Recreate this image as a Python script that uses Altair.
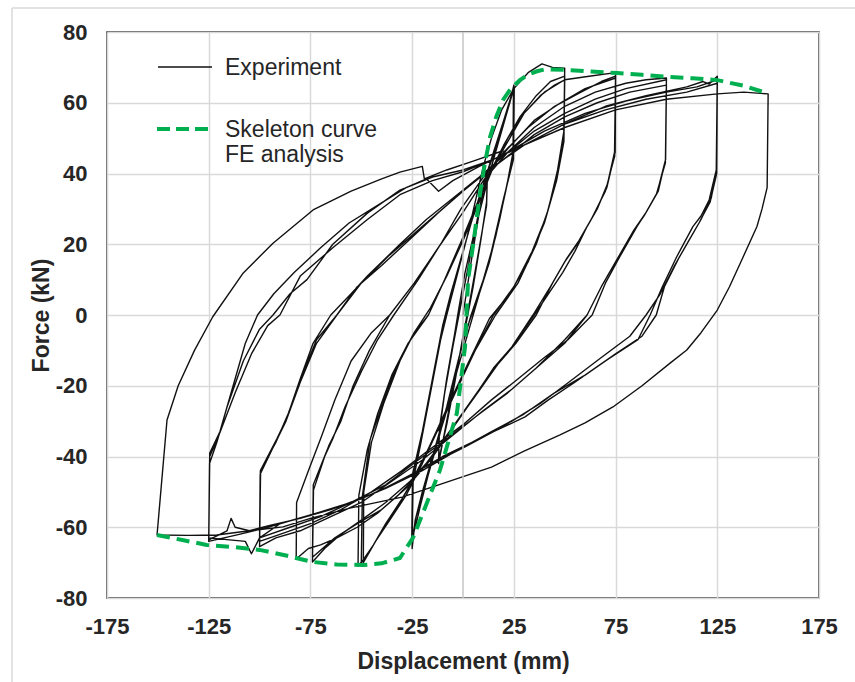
import altair as alt
import pandas as pd

# ---------------- data ----------------
x_ticks = [-175, -125, -75, -25, 25, 75, 125, 175]
y_ticks = [-80, -60, -40, -20, 0, 20, 40, 60, 80]
legend_labels = ["Experiment", "Skeleton curve", "FE analysis"]

# experiment path, (displacement mm, force kN), in loading order
cycles_12 = [(0, 0), (4, 15), (8, 29), (12, 41), (11.6, 32), (9, 22), (5, 8), (1, -4), (-4, -18), (-8, -30),
             (-12, -42), (-11.6, -33), (-9, -22), (-5, -9), (-1, 3), (4, 18), (8, 30), (12, 40), (11.6, 31),
             (8, 19), (4, 6), (0, -6), (-4, -19), (-8, -31), (-12, -41), (-11.6, -32), (-8, -18), (-4, -5)]

cycles_25 = [(-2, 2), (1, 12), (5, 22), (9, 31), (13, 40), (17, 48), (21, 56), (23, 60), (25, 65),
             (24.6, 46), (22, 38), (18, 27), (13, 15), (8, 6), (3, -2), (-2, -12), (-7, -24), (-12, -35),
             (-17, -45), (-21, -54), (-23, -59), (-25, -63),
             (-24.5, -46), (-21, -36), (-17, -24), (-13, -12), (-9, -1),
             (-5, 8), (0, 18), (5, 28), (10, 37), (15, 46), (20, 55), (24.8, 64),
             (24.6, 45), (21, 35), (16, 22), (10, 10), (4, 0), (-2, -12), (-8, -26), (-14, -38), (-19, -49),
             (-23, -57), (-25.2, -64),
             (-24.8, -45), (-20, -33), (-15, -18), (-10, -3),
             (-6, 6), (-1, 16), (4, 26), (10, 37), (16, 47), (21, 56), (25.2, 64.5),
             (24.8, 44), (20, 33), (14, 18), (8, 6), (3, -4), (-3, -16), (-9, -29), (-15, -40), (-20, -50),
             (-23.5, -58), (-25, -66),
             (-24.6, -47), (-21, -37), (-16, -22), (-11, -7), (-8, 0)]

cycles_50 = [(-3, 11), (2, 22), (6, 32), (10, 42), (14, 50), (19, 58), (25, 64), (32, 68.5), (38.8, 71),
             (44, 70), (50, 69.8),
             (49.6, 52), (46.5, 41), (42, 30), (36, 20), (27, 9), (16, 0), (6, -10), (-3, -21), (-11, -31),
             (-19, -40), (-27, -49), (-34, -56), (-41, -62), (-46, -67), (-51.6, -71),
             (-51.2, -51), (-47, -38), (-42, -28), (-35, -17), (-27, -8), (-17, 0),
             (-9, 10), (-1, 20), (6, 30), (13, 40), (20, 48), (28, 56), (36, 62), (43, 66), (50, 67.5),
             (49.5, 50), (46, 39), (41, 28), (34, 18), (25, 8), (15, 0), (5, -11), (-4, -22), (-12, -32),
             (-20, -42), (-28, -51), (-36, -58), (-43, -64), (-49, -70),
             (-48.8, -50), (-45, -36), (-39, -25), (-31, -13), (-24, -5), (-16, 2),
             (-8, 11), (0, 21), (8, 32), (15, 42), (22, 49), (30, 57), (38, 62), (45, 65), (50, 66.5),
             (49.6, 49), (46, 38), (40, 26), (32, 15), (23, 6), (13, -1), (3, -13), (-6, -24), (-14, -34),
             (-22, -44), (-30, -52), (-38, -59), (-44, -65), (-50, -70),
             (-49.5, -51.4), (-45.7, -35.3), (-40, -26), (-33, -15), (-25, -6), (-17, 0)]

cycles_75 = [(-9, 10), (0, 22), (8, 33), (15, 42), (22, 50), (30, 57), (40, 63), (50, 66.5), (62, 67.5),
             (75, 68.5),
             (74.5, 46), (71, 37), (66, 30), (61, 25), (55, 18), (49, 12), (42, 6), (35, 0), (24, -9),
             (15, -15), (8, -21), (-3, -30), (-13, -38), (-22, -45), (-32, -51), (-42, -56), (-52, -60),
             (-62, -63), (-70, -65), (-76, -66), (-82, -69),
             (-81.8, -53), (-76, -44), (-70, -35), (-63, -24), (-55, -13), (-45, -5), (-36, 0),
             (-24, 9), (-11, 20), (0, 29), (10, 38), (20, 46), (32, 53), (45, 59), (58, 63), (68, 66),
             (75, 67.5),
             (74.8, 46), (70.7, 36), (64, 28), (57, 21), (51, 16), (44, 9), (36, 0), (26, -8), (17, -14),
             (8.4, -21), (-4, -31), (-15, -40), (-26, -47), (-38, -53), (-50, -58), (-60, -62), (-68, -66),
             (-74, -69.8),
             (-73.5, -49.5), (-68, -40), (-64, -35), (-58, -26), (-50, -16), (-42, -7), (-34, 0),
             (-22, 10), (-11, 20), (-1, 30), (10, 39), (22, 47), (35, 55), (48, 60), (60, 64), (75, 67),
             (74.6, 45), (70, 35), (63, 27), (56, 20), (50, 15), (43, 8), (34.4, 0), (24, -9), (15, -15),
             (7, -22), (-5, -32), (-16, -41), (-28, -49), (-40, -55), (-52, -59), (-63, -63), (-74, -68.5),
             (-73.6, -48), (-66, -37), (-60, -30), (-54, -20), (-46, -10), (-36, 0)]

cycles_100 = [(-24, 9), (-11, 20), (0, 29), (10, 38), (22, 46), (35, 53), (50, 59), (65, 63), (80, 65.5),
              (90, 66.5), (100, 67),
              (99.6, 44), (95.4, 34.5), (90, 29), (85.5, 25), (77, 16.4), (70, 9), (63.5, 0), (51.6, -7),
              (40, -12), (25, -19), (14, -24), (0, -31), (-18.7, -39), (-30, -44), (-45, -50), (-60, -55),
              (-75, -59), (-90, -62), (-100, -64),
              (-99.6, -44), (-91.5, -35), (-86.5, -29), (-80, -18), (-73.7, -8), (-65, 0),
              (-55, 6), (-47, 11), (-31, 20), (-18, 27), (-5, 33), (8, 39), (20, 45), (35, 52), (50, 57),
              (65, 61), (80, 64), (100, 66.5),
              (99.5, 43), (95, 34), (89, 28), (83, 23), (76, 16), (68, 8), (61, 0), (50, -8), (38, -14),
              (24, -21), (10, -27), (-5, -34), (-20, -41), (-35, -47), (-50, -53), (-65, -57), (-80, -61),
              (-92, -63), (-100, -65.5),
              (-99.5, -44), (-92, -36), (-86, -28), (-79, -17), (-72, -7), (-62, 0),
              (-50, 9), (-36, 17), (-22, 24), (-8, 31), (6, 38), (20, 44), (35, 51), (50, 56), (66, 60),
              (82, 63), (100, 65),
              (99.6, 44), (96, 35), (90, 29), (84, 24), (77, 17), (68, 8), (61, 0), (50, -7), (36, -15),
              (22, -22), (8, -28), (-8, -35), (-22, -41), (-38, -48), (-55, -53), (-70, -57), (-85, -60),
              (-100, -63),
              (-99.7, -45), (-93, -37), (-87, -30), (-80, -19), (-72, -8), (-62, 0)]

cycles_125 = [(-52, 8), (-40, 14), (-25, 22), (-12, 29), (0, 35), (15, 42), (30, 48), (50, 54), (70, 59),
              (90, 62), (110, 64.5), (118, 66), (121, 65.3), (125, 67.5),
              (124.5, 41), (121, 32.5), (117, 28), (113, 25), (105, 16.4), (98, 8), (92, 0), (86, -7),
              (70, -13), (55, -19), (42, -24), (30.5, -28.8), (15, -33), (1, -37.3), (-18.7, -43),
              (-35, -48), (-50, -52), (-65, -55), (-80, -57.5), (-95, -59.5), (-105, -61), (-112, -60),
              (-114, -57.5), (-116, -61), (-125, -63.6),
              (-124.5, -39), (-119.5, -33), (-113, -20), (-107, -8), (-101, 0),
              (-93, 6), (-83, 12), (-70, 19), (-56, 26), (-42, 31), (-28, 36), (-18, 38.5), (-12, 35),
              (-5, 38), (8, 42), (22, 46), (40, 52), (60, 57), (80, 60.5), (100, 63), (115, 64.5),
              (125, 66.5),
              (124.7, 40), (121.5, 32), (116, 26), (111, 21), (104, 14), (97, 6), (90, 0), (82, -6),
              (68, -12), (52, -19), (38, -25), (24, -30), (8, -35), (-10, -40), (-25, -45), (-42, -50),
              (-60, -54), (-78, -57), (-96, -60), (-110, -62), (-125, -64),
              (-124.6, -42), (-121, -36), (-116, -26), (-108, -13), (-100, -4), (-93.4, 0),
              (-85, 6), (-76.7, 10), (-64, 20), (-47, 28.8), (-31, 35.3), (-15, 39), (0, 41), (15, 44),
              (30, 48), (50, 54), (70, 58), (90, 61), (110, 63), (125, 65.5),
              (124.6, 41), (122, 33), (117, 27), (112, 22), (106, 16), (99, 8), (95, 0), (88, -6),
              (75, -11), (60, -17), (45, -22), (30, -28), (14, -33), (-5, -39), (-20, -44), (-38, -49),
              (-55, -53), (-72, -56), (-90, -59), (-100, -63), (-104, -67.5), (-107, -64), (-125, -63),
              (-124.5, -40), (-120, -34), (-112, -22), (-104, -11), (-96, -3), (-90, 0)]

cycle_150 = [(-80, 11), (-64, 19), (-47, 27), (-31, 34), (-15, 38), (0, 40.5), (15, 44), (30, 48), (50, 53),
             (75, 58), (100, 61), (125, 62.5), (138, 63), (150, 62.5),
             (149.5, 36), (147, 30), (144.5, 25), (137.7, 16.4), (131, 8), (125, 1.4), (117, -5),
             (110, -9.9), (101.8, -13.6), (88, -20), (73.7, -26), (60, -30.5), (47.7, -33.9), (30, -38.5),
             (14, -43), (-12, -48), (-30, -51.5), (-55.6, -54.6), (-75, -57.5), (-88.5, -59.9), (-105, -61),
             (-121, -62.2), (-135, -62.3), (-150.4, -62.2),
             (-145.5, -29.7), (-140, -20), (-132, -10), (-123, -0.5), (-108, 11.9), (-93.4, 20.3),
             (-73.7, 29.7), (-55, 35), (-40, 38.5), (-31, 40.4), (-20, 42), (-19, 38.5), (-8, 41),
             (5, 43.5), (20, 46.5)]

skeleton = [(-150.4, -62.2), (-138, -63.6), (-126, -65), (-113, -65.6), (-100, -66.4), (-87, -68),
            (-74, -69.8), (-62, -70.5), (-49, -70.7), (-40, -70.2), (-31, -68.7), (-24.6, -63),
            (-18, -53.5), (-11.3, -43.8), (-3, -27.7), (1, -9), (2.5, 9.9), (5.5, 22), (8.4, 34.5),
            (10.8, 43), (13.3, 50.3), (16.3, 56), (19.7, 60.8), (23.5, 64), (28, 66.4), (32, 68),
            (36.4, 68.9), (40, 69.4), (50, 69.3), (63, 68.8), (76, 68.4), (88, 67.9), (100.8, 67.3),
            (113, 66.9), (125, 66.4), (138, 64.8), (149.5, 62.7)]

# ---------------- tables ----------------
rows = []
k = 0
for grp in [cycles_12, cycles_25, cycles_50, cycles_75, cycles_100, cycles_125, cycle_150]:
    for d, f in grp:
        rows.append({"d": d, "f": f, "i": k})
        k += 1
exp_df = pd.DataFrame(rows)
skel_df = pd.DataFrame([{"d": d, "f": f, "i": j} for j, (d, f) in enumerate(skeleton)])
zero_df = pd.DataFrame({"d": [0]})

FONT = "Liberation Sans"
TXT = "#262626"
GREEN = "#00b050"
GRID = "#d9d9d9"

xscale = alt.Scale(domain=[-175, 175], nice=False, zero=False)
yscale = alt.Scale(domain=[-80, 80], nice=False, zero=False)

xaxis = alt.Axis(values=x_ticks, grid=True, gridColor=GRID, gridWidth=1.5, ticks=False, domain=False,
                 labelFont=FONT, labelFontSize=22, labelFontWeight="bold", labelColor=TXT,
                 labelPadding=18, labelFlush=False, labelOverlap=False, labelExpr="'' + datum.value",
                 title="Displacement (mm)", titleFont=FONT, titleFontSize=23, titleFontWeight="bold",
                 titleColor=TXT, titlePadding=13)
yaxis = alt.Axis(values=y_ticks, grid=True, gridColor=GRID, gridWidth=1.5, ticks=False, domain=False,
                 labelFont=FONT, labelFontSize=22, labelFontWeight="bold", labelColor=TXT,
                 labelPadding=20, labelFlush=False, labelOverlap=False, labelExpr="'' + datum.value",
                 title="Force (kN)", titleFont=FONT, titleFontSize=23, titleFontWeight="bold",
                 titleColor=TXT, titlePadding=2)

X = alt.X("d:Q", scale=xscale, axis=xaxis)
Y = alt.Y("f:Q", scale=yscale, axis=yaxis)

zero_line = alt.Chart(zero_df).mark_rule(color="#c4c4c4", strokeWidth=1.5).encode(x=X)

exp = alt.Chart(exp_df).mark_line(color="#111111", strokeWidth=1.4, strokeJoin="round").encode(
    x=X, y=Y, order="i:Q")

skel = alt.Chart(skel_df).mark_line(color=GREEN, strokeWidth=4, strokeDash=[13, 7]).encode(
    x=X, y=Y, order="i:Q")

one = pd.DataFrame({"a": [0]})
leg_line = alt.Chart(one).mark_rule(color="#111111", strokeWidth=1.4).encode(
    x=alt.value(51), x2=alt.value(105), y=alt.value(35))
leg_dash = alt.Chart(one).mark_rule(color=GREEN, strokeWidth=4, strokeDash=[13, 6]).encode(
    x=alt.value(50), x2=alt.value(106), y=alt.value(97))
leg_t1 = alt.Chart(one).mark_text(align="left", baseline="alphabetic", font=FONT, fontSize=23, color=TXT).encode(
    x=alt.value(118), y=alt.value(43), text=alt.value(legend_labels[0]))
leg_t2 = alt.Chart(one).mark_text(align="left", baseline="alphabetic", font=FONT, fontSize=23, color=TXT).encode(
    x=alt.value(118), y=alt.value(105), text=alt.value(legend_labels[1]))
leg_t3 = alt.Chart(one).mark_text(align="left", baseline="alphabetic", font=FONT, fontSize=23, color=TXT).encode(
    x=alt.value(118), y=alt.value(130), text=alt.value(legend_labels[2]))

frame_top = alt.Chart(one).mark_rule(color=GRID, strokeWidth=1.5).encode(
    x=alt.value(-95), x2=alt.value(748), y=alt.value(-24))
frame_left = alt.Chart(one).mark_rule(color=GRID, strokeWidth=1.5).encode(
    x=alt.value(-95), y=alt.value(-24), y2=alt.value(650))

chart = alt.layer(exp, zero_line, skel, leg_line, leg_dash, leg_t1, leg_t2, leg_t3, frame_top, frame_left).properties(
    width=712, height=566,
    padding={"left": 107, "top": 32, "right": 36, "bottom": 84},
    autosize=alt.AutoSizeParams(type="none"),
    background="white",
).configure_view(stroke="#2b2b2b", strokeWidth=1.5)

chart.save("out.html", embed_options={"renderer": "svg", "actions": False})
